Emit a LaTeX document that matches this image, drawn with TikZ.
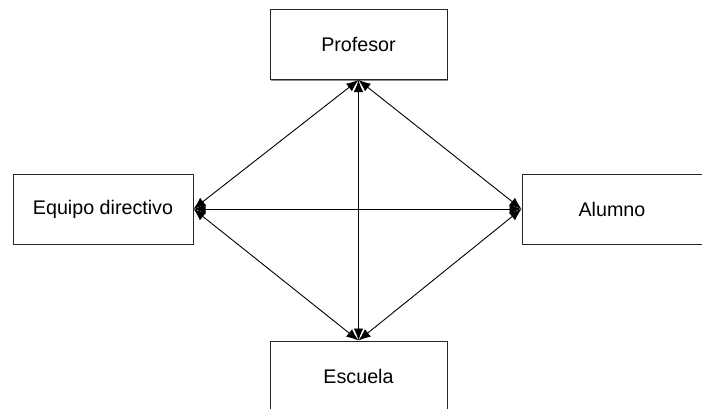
\documentclass[tikz,border=0pt]{standalone}
\usepackage{fontspec}
\setmainfont{Liberation Sans}
\usetikzlibrary{arrows.meta,shadows}

\begin{document}
\begin{tikzpicture}[x=0.5pt,y=-0.5pt,
    caja/.style={draw=black!85,line width=0.5pt,fill=white,rectangle,
      minimum width=88.5pt,minimum height=35pt,inner sep=0pt,
      font=\fontsize{9.85pt}{12pt}\selectfont,
      drop shadow={shadow xshift=0.6pt,shadow yshift=-0.6pt,fill=black!45,opacity=1}},
    flecha/.style={line width=0.45pt,{Latex[length=6pt,width=4.8pt]}-{Latex[length=6pt,width=4.8pt]}}]
  \useasboundingbox (0,0) rectangle (702,408);
  \node[caja] (profesor) at (358.5,44.5) {Profesor};
  \node[caja,minimum width=90pt] (equipo) at (103,209) {Equipo directivo};
  \node[caja,minimum width=90pt] (alumno) at (612,209) {Alumno};
  \node[caja] (escuela) at (358.5,376) {Escuela};
  % relaciones entre los cuatro
  \draw[flecha] (profesor.south) -- (equipo.east);
  \draw[flecha] (profesor.south) -- (alumno.west);
  \draw[flecha] (profesor.south) -- (escuela.north);
  \draw[flecha] (equipo.east) -- (alumno.west);
  \draw[flecha] (equipo.east) -- (escuela.north);
  \draw[flecha] (alumno.west) -- (escuela.north);
\end{tikzpicture}
\end{document}
